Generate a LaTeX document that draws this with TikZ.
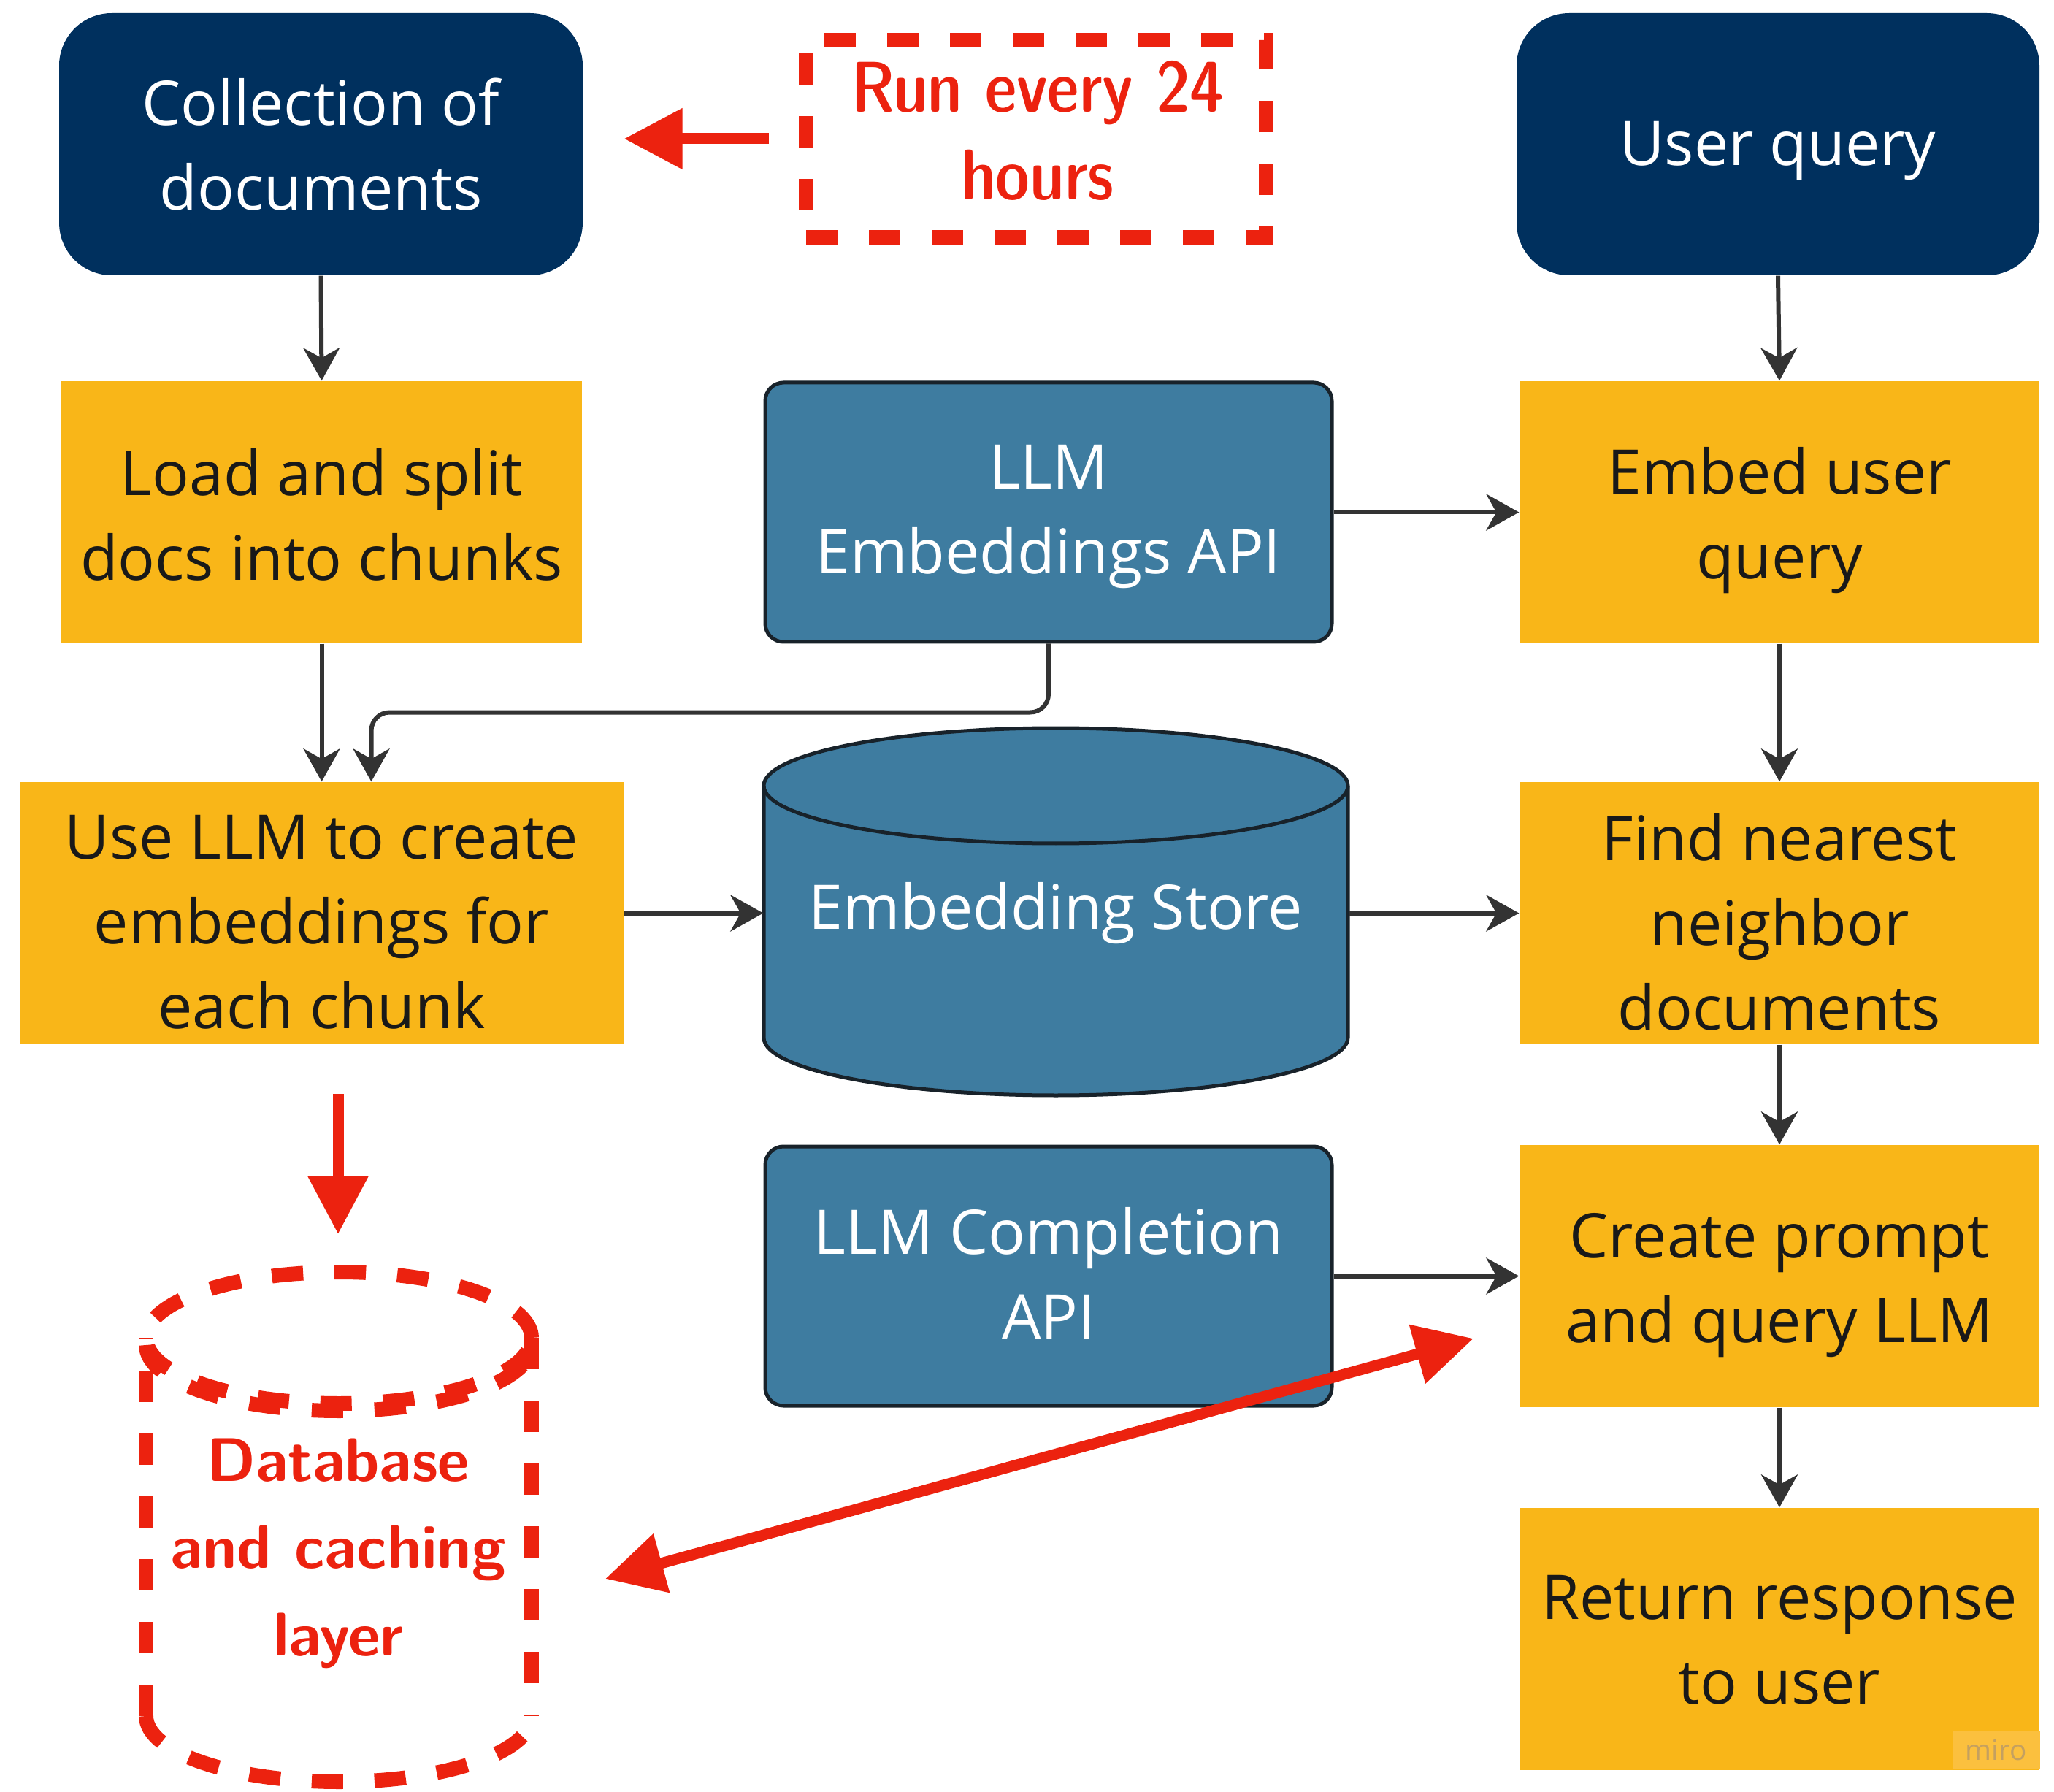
\documentclass[tikz,border=0pt]{standalone}
\usepackage{fontspec}
\setmainfont{Open Sans}
\usetikzlibrary{arrows.meta}

\definecolor{navy}{RGB}{0,48,94}
\definecolor{gold}{RGB}{249,182,24}
\definecolor{steel}{RGB}{62,124,160}
\definecolor{rimdark}{RGB}{24,34,42}
\definecolor{wire}{RGB}{51,51,51}
\definecolor{alert}{RGB}{236,34,15}
\definecolor{markbg}{RGB}{251,192,62}
\definecolor{marktext}{RGB}{196,160,96}

\newcommand\diagfont{\fontsize{24}{33}\selectfont}
\newcommand\notefont{\fontfamily{lmss}\fontseries{sbc}\selectfont\fontsize{28}{34}\selectfont}
\newcommand\dbfont{\fontfamily{lmss}\fontseries{bx}\selectfont\fontsize{24}{34}\selectfont}

\tikzset{
  navybox/.style={rectangle, rounded corners=0.72cm, fill=navy,
    minimum width=7.17cm, minimum height=3.59cm},
  goldbox/.style={rectangle, fill=gold,
    minimum width=7.13cm, minimum height=3.59cm},
  steelbox/.style={rectangle, rounded corners=0.25cm, fill=steel, draw=rimdark,
    line width=0.05cm, minimum width=7.76cm, minimum height=3.55cm},
  % captions set inside the boxes
  lighttext/.style={text=white, align=center, font=\diagfont},
  darktext/.style={text=black!90, align=center, font=\diagfont},
  conn/.style={draw=wire, line width=0.06cm,
    -{Stealth[length=0.45cm, width=0.5cm, inset=0.14cm]}},
  redarrow/.style={draw=alert, line width=0.15cm,
    -{Triangle[length=0.8cm, width=0.8cm]}},
  reddash/.style={draw=alert, line width=0.2cm, dash pattern=on 0.43cm off 0.43cm},
}

\begin{document}
\begin{tikzpicture}
\useasboundingbox[fill=white] (0,0) rectangle (28.13,-24.54);

% indexing pipeline (left column)
\node[navybox, label={[lighttext]center:{Collection of\\documents}}] (coll) at (4.395,-1.975) {};
\node[goldbox, label={[darktext, yshift=-0.03cm]center:{Load and split\\docs into chunks}}]
  (load) at (4.405,-7.015) {};
\node[goldbox, minimum width=8.27cm,
  label={[darktext, yshift=-0.125cm]center:{Use LLM to create\\embeddings for\\each chunk}}]
  (use) at (4.405,-12.505) {};

% services (middle column)
\node[steelbox, label={[lighttext, yshift=-0.06cm]center:{LLM\\Embeddings API}}]
  (api) at (14.36,-7.015) {};
\node[steelbox, label={[lighttext, yshift=0.045cm]center:{LLM Completion\\API}}]
  (compl) at (14.36,-17.475) {};

% embedding store cylinder
\fill[steel] (10.46,-10.76) -- (10.46,-14.21)
  arc[start angle=180, end angle=360, x radius=4.0cm, y radius=0.79cm]
  -- (18.46,-10.76)
  arc[start angle=0, end angle=180, x radius=4.0cm, y radius=0.79cm] -- cycle;
\draw[rimdark, line width=0.05cm] (10.46,-10.76) -- (10.46,-14.21)
  arc[start angle=180, end angle=360, x radius=4.0cm, y radius=0.79cm]
  -- (18.46,-10.76);
\draw[rimdark, line width=0.05cm] (14.46,-10.76) ellipse[x radius=4.0cm, y radius=0.79cm];
\node[lighttext, minimum width=8cm, minimum height=3.45cm]
  (store) at (14.46,-12.505) {Embedding Store};

% query pipeline (right column)
\node[navybox, minimum width=7.16cm, label={[lighttext, yshift=-0.09cm]center:{User query}}]
  (user) at (24.35,-1.975) {};
\node[goldbox, minimum width=7.12cm, label={[darktext, yshift=-0.11cm]center:{Embed user\\query}}]
  (embed) at (24.37,-7.015) {};
\node[goldbox, minimum width=7.12cm,
  label={[darktext, yshift=-0.125cm]center:{Find nearest\\neighbor\\documents}}]
  (find) at (24.37,-12.505) {};
\node[goldbox, minimum width=7.12cm,
  label={[darktext, yshift=-0.125cm]center:{Create prompt\\and query LLM}}]
  (create) at (24.37,-17.475) {};
\node[goldbox, minimum width=7.12cm,
  label={[darktext, yshift=-0.01cm]center:{Return response\\to user}}]
  (ret) at (24.37,-22.445) {};

% connectors
\draw[conn] (coll.south) -- (load.north);
\draw[conn] (load.south) -- (use.north);
\draw[conn, rounded corners=0.25cm] (api.south) -- ++(0,-0.94) -| ([xshift=0.68cm]use.north);
\draw[conn] (use.east) -- (store.west);
\draw[conn] (store.east) -- (find.west);
\draw[conn] (api.east) -- (embed.west);
\draw[conn] (user.south) -- (embed.north);
\draw[conn] (embed.south) -- (find.north);
\draw[conn] (find.south) -- (create.north);
\draw[conn] (create.south) -- (ret.north);
\draw[conn] (compl.east) -- (create.west);

% schedule note
\node[reddash, minimum width=6.3cm, minimum height=2.7cm] (run) at (14.19,-1.90) {};
\node[text=alert, font=\notefont, align=center] (runtext) at (14.21,-1.79)
  {Run every 24\\hours};
\path (run.west -| coll.east) coordinate (collin);
\draw[redarrow] ([xshift=-0.41cm]run.west) -- ([xshift=0.56cm]collin);

% database and caching layer
\draw[reddash] (2.0,-23.5) -- (2.0,-18.32);
\draw[reddash] (7.28,-18.32) -- (7.28,-23.5);
\draw[reddash] (2.0,-23.5) arc[start angle=180, end angle=360, x radius=2.64cm, y radius=0.9cm];
\draw[reddash] (4.64,-18.32) ellipse[x radius=2.64cm, y radius=0.9cm];
\draw[reddash] (2.0,-18.42) arc[start angle=180, end angle=360, x radius=2.64cm, y radius=0.9cm];
\node[text=alert, font=\dbfont, align=center] (db) at (4.63,-21.27)
  {Database\\and caching\\layer};

\coordinate (dropstart) at (4.63,-14.98);
\coordinate (dropend) at (4.63,-16.90);
\draw[redarrow] (dropstart) -- (dropend);

\coordinate (linkdb) at (8.29,-21.62);
\coordinate (linkllm) at (20.18,-18.33);
\draw[redarrow, {Triangle[length=0.8cm, width=0.8cm]}-{Triangle[length=0.8cm, width=0.8cm]}]
  (linkdb) -- (linkllm);

% watermark
\node[fill=markbg, minimum width=1.19cm, minimum height=0.53cm, inner sep=0pt,
  text=marktext, font=\fontsize{11}{13}\selectfont] (miro) at (27.34,-23.965) {miro};
\end{tikzpicture}
\end{document}
